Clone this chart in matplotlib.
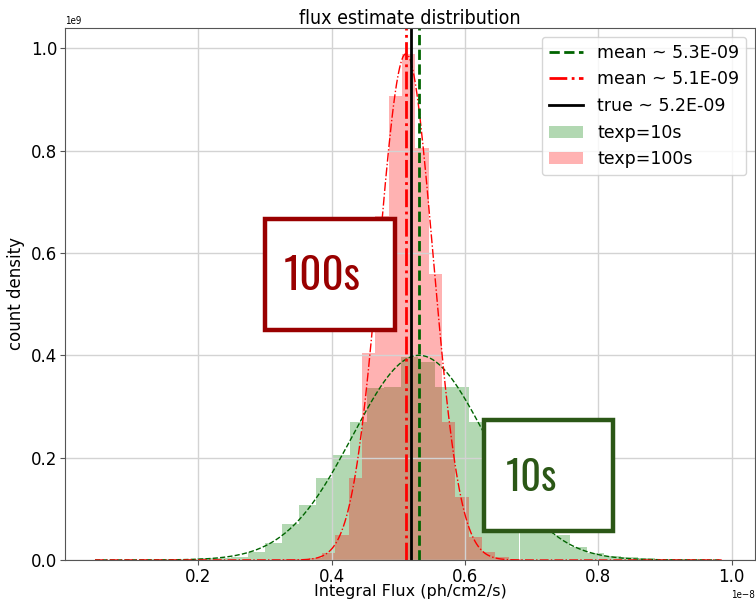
import matplotlib
matplotlib.use("Agg")
import matplotlib.pyplot as plt
import numpy as np
from matplotlib.patches import Rectangle

# flux in units of 1e-8 ph/cm2/s, density in units of 1e9
green_start = 0.0455
green_width = 0.02545
green_heights = [
    0.0003, 0.0005, 0.0008, 0.001, 0.0015, 0.002, 0.003, 0.004,
    0.006, 0.016, 0.033, 0.07, 0.107, 0.16, 0.205, 0.27, 0.337, 0.338,
    0.396, 0.387, 0.338, 0.338, 0.27, 0.21, 0.155, 0.105, 0.07, 0.049,
    0.026, 0.013, 0.008, 0.005, 0.003, 0.002, 0.001, 0.001, 0.0005,
]
red_start = 0.3054
red_width = 0.02
red_heights = [
    0.0005, 0.001, 0.001, 0.004, 0.013, 0.049, 0.16, 0.404, 0.672, 0.908,
    0.99, 0.805, 0.56, 0.27, 0.124, 0.045, 0.016, 0.005, 0.001,
]

# gaussian fits and reference values
mean_10s = 0.531
sigma_10s = 0.0997
mean_100s = 0.5115
sigma_100s = 0.0403
true_flux = 0.5195
fit_lo, fit_hi = 0.045, 0.985

label_mean_10s = "mean ~ 5.3E-09"
label_mean_100s = "mean ~ 5.1E-09"
label_true = "true ~ 5.2E-09"
label_10s = "texp=10s"
label_100s = "texp=100s"

XS = 1e-8
YS = 1e9


def gauss(x, mu, sigma):
    return np.exp(-0.5 * ((x - mu) / sigma) ** 2) / (sigma * np.sqrt(2 * np.pi))


fig = plt.figure(figsize=(7.56, 6.02), dpi=100)
ax = fig.add_axes([65 / 756, 42 / 602, 690 / 756, 532 / 602])

g_edges = green_start + green_width * np.arange(len(green_heights) + 1)
r_edges = red_start + red_width * np.arange(len(red_heights) + 1)
_, _, g_patches = ax.hist(g_edges[:-1] * XS, bins=g_edges * XS,
                          weights=np.array(green_heights) * YS,
                          color="green", alpha=0.3, label=label_10s)
_, _, r_patches = ax.hist(r_edges[:-1] * XS, bins=r_edges * XS,
                          weights=np.array(red_heights) * YS,
                          color="red", alpha=0.3, label=label_100s)

xf = np.linspace(fit_lo, fit_hi, 400)
ax.plot(xf * XS, gauss(xf * XS, mean_10s * XS, sigma_10s * XS), "--",
        color="darkgreen", lw=1)
ax.plot(xf * XS, gauss(xf * XS, mean_100s * XS, sigma_100s * XS), "-.",
        color="red", lw=1)

l1 = ax.axvline(mean_10s * XS, color="darkgreen", ls="--", lw=2, label=label_mean_10s)
l2 = ax.axvline(mean_100s * XS, color="red", ls="-.", lw=2, label=label_mean_100s)
l3 = ax.axvline(true_flux * XS, color="black", ls="-", lw=2, label=label_true)

ax.set_xlim(0.0, 1.035e-8)
ax.set_ylim(0.0, 1.04e9)
ax.set_xticks(np.array([0.2, 0.4, 0.6, 0.8, 1.0]) * XS)
ax.set_yticks(np.array([0.0, 0.2, 0.4, 0.6, 0.8, 1.0]) * YS)
ax.grid(True, color="#d3d3d3", lw=1)
ax.tick_params(labelsize=12, colors="black", pad=2)
ax.tick_params(axis="both", color="#555555")
for s in ax.spines.values():
    s.set_color("#555555")
for off in (ax.yaxis.get_offset_text(), ax.xaxis.get_offset_text()):
    off.set_fontsize(7)
    off.set_fontstretch("condensed")
ax.set_xlabel("Integral Flux (ph/cm2/s)", fontsize=11.5, labelpad=-1)
ax.set_ylabel("count density", fontsize=12, labelpad=4)
ax.set_title("flux estimate distribution", fontsize=14,
             fontstretch="condensed", pad=3)

ax.legend(handles=[l1, l2, l3, g_patches[0], r_patches[0]], loc="upper right",
          fontsize=12.5, framealpha=0.8, handlelength=2.0)

# annotation boxes
for (x0, y0, w, h), col, txt, tx, ty, fs in [
    ((0.290, 0.432, 0.188, 0.209), "#990000", "100s", 0.372, 0.532, 31),
    ((0.607, 0.0545, 0.187, 0.2085), "#2b5716", "10s", 0.676, 0.154, 29),
]:
    ax.add_patch(Rectangle((x0, y0), w, h, transform=ax.transAxes,
                           facecolor="white", edgecolor=col, lw=3.2,
                           zorder=10, clip_on=False))
    ax.text(tx, ty, txt, transform=ax.transAxes, color=col, fontsize=fs,
            family=["Oswald", "DejaVu Sans"],
            ha="center", va="center", zorder=11)

fig.savefig("out.png", dpi=100)
